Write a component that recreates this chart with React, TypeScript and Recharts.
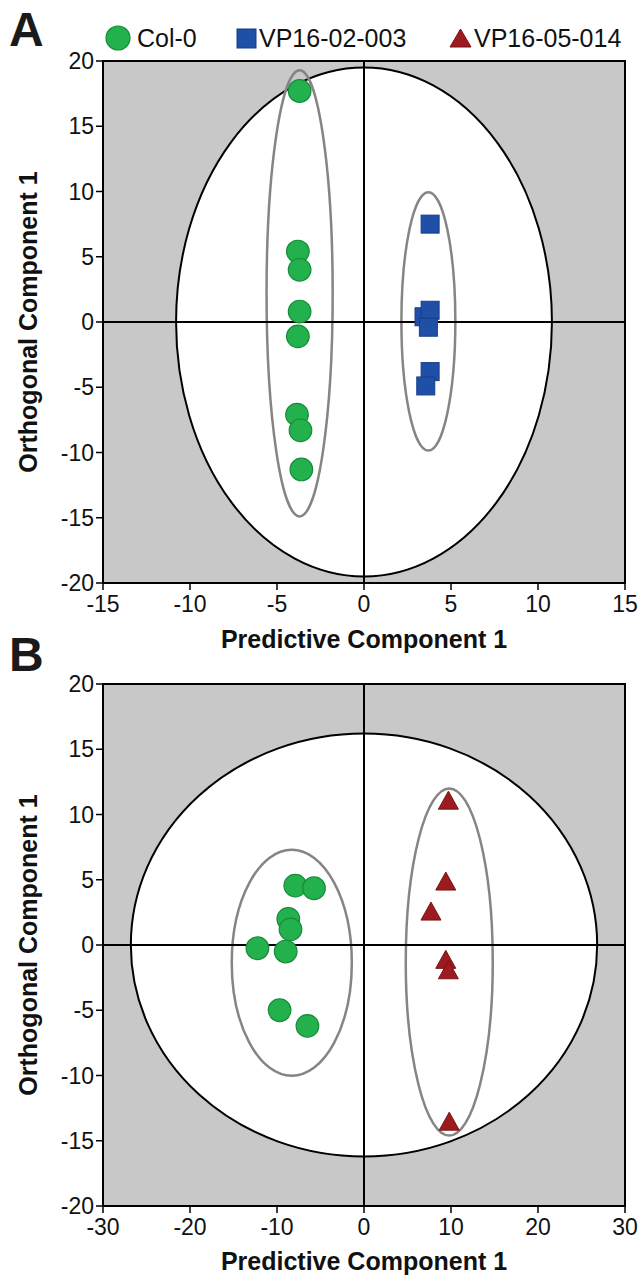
import React from 'react';
import { ScatterChart, Scatter, XAxis, YAxis, ReferenceArea, ReferenceLine, Label } from 'recharts';

const FONT = '"Liberation Sans", Arial, Helvetica, sans-serif';

// ---------- Panel A data ----------
const colA = [
  { x: -3.7, y: 17.7 },
  { x: -3.8, y: 5.4 },
  { x: -3.7, y: 4.0 },
  { x: -3.7, y: 0.8 },
  { x: -3.8, y: -1.1 },
  { x: -3.85, y: -7.1 },
  { x: -3.65, y: -8.3 },
  { x: -3.6, y: -11.3 },
];
const vp02A = [
  { x: 3.8, y: 7.5 },
  { x: 3.45, y: 0.4 },
  { x: 3.8, y: 0.9 },
  { x: 3.7, y: -0.4 },
  { x: 3.8, y: -3.8 },
  { x: 3.55, y: -4.9 },
];

// ---------- Panel B data ----------
const colB = [
  { x: -7.9, y: 4.55 },
  { x: -5.75, y: 4.35 },
  { x: -8.7, y: 2.0 },
  { x: -8.45, y: 1.2 },
  { x: -12.25, y: -0.25 },
  { x: -9.0, y: -0.5 },
  { x: -9.7, y: -5.0 },
  { x: -6.5, y: -6.2 },
];
const vp05B = [
  { x: 9.7, y: 11.1 },
  { x: 9.4, y: 4.9 },
  { x: 7.7, y: 2.6 },
  { x: 9.4, y: -1.1 },
  { x: 9.7, y: -1.9 },
  { x: 9.8, y: -13.5 },
];

// ---------- axes ----------
const xTicksA = [-15, -10, -5, 0, 5, 10, 15];
const xTicksB = [-30, -20, -10, 0, 10, 20, 30];
const yTicks = [-20, -15, -10, -5, 0, 5, 10, 15, 20];
const xDomainA = [-15, 15];
const xDomainB = [-30, 30];
const yDomain = [-20, 20];

// ---------- ellipses (centre, semi-axes in data units) ----------
const hotellingA = { cx: 0, cy: 0, rx: 10.8, ry: 19.5 };
const groupsA = [
  { cx: -3.7, cy: 2.2, rx: 1.9, ry: 17.1 },
  { cx: 3.7, cy: 0.05, rx: 1.55, ry: 9.9 },
];
const hotellingB = { cx: 0, cy: 0, rx: 26.8, ry: 16.2 };
const groupsB = [
  { cx: -8.3, cy: -1.36, rx: 6.9, ry: 8.66 },
  { cx: 9.8, cy: -1.3, rx: 5.0, ry: 13.3 },
];

// ---------- legend ----------
const legendNames = ['Col-0', 'VP16-02-003', 'VP16-05-014'];
const xTitle = 'Predictive Component 1';
const yTitle = 'Orthogonal Component 1';

const GREEN = '#22b14c';
const GREEN_S = '#178a3a';
const BLUE = '#1f4fa6';
const BLUE_S = '#173f88';
const RED = '#9b1b1f';
const RED_S = '#7a1316';
const BG = '#c8c8c8';
const GROUP_STROKE = '#858585';

const circleShape = (props: any) => (
  <circle cx={props.cx} cy={props.cy} r={11.3} fill={GREEN} stroke={GREEN_S} strokeWidth={1.2} />
);
const squareShape = (props: any) => (
  <rect x={props.cx - 9} y={props.cy - 9} width={18} height={18} fill={BLUE} stroke={BLUE_S} strokeWidth={1} />
);
const triangleShape = (props: any) => {
  const { cx, cy } = props;
  const h = 18;
  const w = 20;
  return (
    <polygon
      points={`${cx},${cy - h / 2} ${cx + w / 2},${cy + h / 2} ${cx - w / 2},${cy + h / 2}`}
      fill={RED}
      stroke={RED_S}
      strokeWidth={1}
    />
  );
};

const ellipseShape = (fill: string, stroke: string, sw: number) => (props: any) => {
  const { x, y, width, height } = props;
  return (
    <ellipse
      cx={x + width / 2}
      cy={y + height / 2}
      rx={Math.abs(width) / 2}
      ry={Math.abs(height) / 2}
      fill={fill}
      stroke={stroke}
      strokeWidth={sw}
    />
  );
};

const tickStyle = { fill: '#111', fontSize: 23, fontFamily: FONT };

function Panel(p: any) {
  const { width, height, marginTop, xDomain, xTicks, xAxisHeight, titleOffset, hotelling, groups, children } = p;
  const e = (el: any, key: string, fill: string, stroke: string, sw: number) => (
    <ReferenceArea
      key={key}
      x1={el.cx - el.rx}
      x2={el.cx + el.rx}
      y1={el.cy - el.ry}
      y2={el.cy + el.ry}
      ifOverflow="visible"
      shape={ellipseShape(fill, stroke, sw)}
    />
  );
  return (
    <ScatterChart width={width} height={height} margin={{ top: marginTop, right: 15, bottom: 0, left: 0 }}>
      <XAxis
        type="number"
        dataKey="x"
        domain={xDomain}
        ticks={xTicks}
        interval={0}
        allowDataOverflow
        height={xAxisHeight}
        tick={tickStyle}
        tickSize={7}
        tickMargin={6}
        axisLine={{ stroke: '#000', strokeWidth: 2 }}
        tickLine={{ stroke: '#000', strokeWidth: 1.5 }}
      >
        <Label
          value={xTitle}
          position="insideBottom"
          offset={titleOffset}
          style={{ fontFamily: FONT, fontWeight: 700, fontSize: 25, fill: '#111' }}
        />
      </XAxis>
      <YAxis
        type="number"
        dataKey="y"
        domain={yDomain}
        ticks={yTicks}
        interval={0}
        allowDataOverflow
        width={103}
        tick={tickStyle}
        tickSize={7}
        tickMargin={2}
        axisLine={{ stroke: '#000', strokeWidth: 2 }}
        tickLine={{ stroke: '#000', strokeWidth: 1.5 }}
      >
        <Label
          value={yTitle}
          angle={-90}
          position="insideLeft"
          offset={28}
          style={{ textAnchor: 'middle', fontFamily: FONT, fontWeight: 700, fontSize: 25, fill: '#111' }}
        />
      </YAxis>
      <ReferenceArea x1={xDomain[0]} x2={xDomain[1]} y1={yDomain[0]} y2={yDomain[1]} fill={BG} fillOpacity={1} stroke="none" />
      {e(hotelling, 'hot', '#ffffff', '#000', 2)}
      {groups.map((g: any, i: number) => e(g, 'g' + i, 'none', GROUP_STROKE, 2.5))}
      <ReferenceLine x={0} stroke="#000" strokeWidth={2} />
      <ReferenceLine y={0} stroke="#000" strokeWidth={2} />
      <ReferenceArea x1={xDomain[0]} x2={xDomain[1]} y1={yDomain[0]} y2={yDomain[1]} fill="none" stroke="#000" strokeWidth={2} />
      {children}
    </ScatterChart>
  );
}

function Legend() {
  return (
    <svg width={640} height={60} style={{ position: 'absolute', left: 0, top: 0 }}>
      <text x={9} y={46} fontFamily={FONT} fontWeight={700} fontSize={48} fill="#1a1a1a">A</text>
      <circle cx={118} cy={38} r={12} fill={GREEN} stroke={GREEN_S} strokeWidth={1.2} />
      <text x={137} y={47} fontFamily={FONT} fontSize={25} fill="#111">{legendNames[0]}</text>
      <rect x={237} y={29} width={19} height={19} fill={BLUE} stroke={BLUE_S} strokeWidth={1} />
      <text x={259} y={47} fontFamily={FONT} fontSize={25} fill="#111">{legendNames[1]}</text>
      <polygon points="460.5,29 471,47 450,47" fill={RED} stroke={RED_S} strokeWidth={1} />
      <text x={474} y={47} fontFamily={FONT} fontSize={25} fill="#111">{legendNames[2]}</text>
    </svg>
  );
}

export default function App() {
  return (
    <div style={{ position: 'absolute', left: 0, top: 0, width: 640, height: 1284, background: '#fff', overflow: 'hidden' }}>
      <div style={{ position: 'absolute', left: 0, top: 0 }}>
        <Panel
          width={640}
          height={660}
          marginTop={61}
          xDomain={xDomainA}
          xTicks={xTicksA}
          xAxisHeight={77}
          titleOffset={12}
          hotelling={hotellingA}
          groups={groupsA}
        >
          <Scatter name={legendNames[0]} data={colA} shape={circleShape} isAnimationActive={false} />
          <Scatter name={legendNames[1]} data={vp02A} shape={squareShape} isAnimationActive={false} />
        </Panel>
      </div>
      <div style={{ position: 'absolute', left: 0, top: 660 }}>
        <Panel
          width={640}
          height={624}
          marginTop={24}
          xDomain={xDomainB}
          xTicks={xTicksB}
          xAxisHeight={78}
          titleOffset={14}
          hotelling={hotellingB}
          groups={groupsB}
        >
          <Scatter name={legendNames[0]} data={colB} shape={circleShape} isAnimationActive={false} />
          <Scatter name={legendNames[2]} data={vp05B} shape={triangleShape} isAnimationActive={false} />
        </Panel>
      </div>
      <Legend />
      <svg width={60} height={60} style={{ position: 'absolute', left: 0, top: 625 }}>
        <text x={9} y={46} fontFamily={FONT} fontWeight={700} fontSize={48} fill="#1a1a1a">B</text>
      </svg>
    </div>
  );
}
